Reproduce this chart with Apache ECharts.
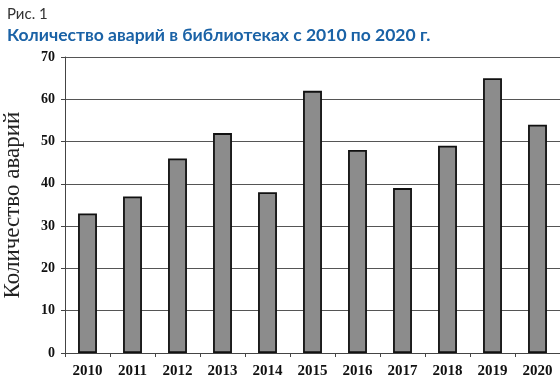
<!DOCTYPE html>
<html><head><meta charset="utf-8">
<script src="https://cdn.jsdelivr.net/npm/echarts@6/dist/echarts.min.js"></script>
<style>html,body{margin:0;padding:0;background:#fff}#c{width:560px;height:385px}</style>
</head><body><div id="c"></div>
<script>
const categories = ['2010','2011','2012','2013','2014','2015','2016','2017','2018','2019','2020'];
const values = [33, 37, 46, 52, 38, 62, 48, 39, 49, 65, 54];
const yTicks = [0, 10, 20, 30, 40, 50, 60, 70];
const figLabel = 'Рис. 1';
const titleText = 'Количество аварий в библиотеках с 2010 по 2020 г.';
const yName = 'Количество аварий';

const chart = echarts.init(document.getElementById('c'));
chart.setOption({
  animation: false,
  title: [
    {text: figLabel, left: 2, top: 2, textStyle: {fontFamily: 'Lato', fontSize: 15, fontWeight: 'normal', color: '#333'}},
    {text: titleText, left: 2, top: 21, textStyle: {fontFamily: 'Lato', fontSize: 17.5, fontWeight: 'bold', color: '#1a62a6'}}
  ],
  grid: {left: 65, right: 0, top: 57, bottom: 32, outerBoundsMode: 'none', containLabel: false},
  xAxis: {
    type: 'category', data: categories,
    axisLine: {lineStyle: {color: '#444', width: 1}},
    axisTick: {show: true, lineStyle: {color: '#444'}, length: 4},
    axisLabel: {fontFamily: 'Liberation Serif', fontWeight: 'bold', fontSize: 15, color: '#111', margin: 11}
  },
  yAxis: {
    type: 'value', min: yTicks[0], max: yTicks[yTicks.length-1], interval: 10,
    name: yName, nameLocation: 'middle', nameGap: 41, nameMoveOverlap: false,
    nameTextStyle: {fontFamily: 'Liberation Serif', fontSize: 23, color: '#222'},
    axisLine: {show: true, lineStyle: {color: '#444'}},
    axisTick: {show: true, length: 4, lineStyle: {color: '#444'}},
    splitLine: {lineStyle: {color: '#555', width: 1}},
    axisLabel: {fontFamily: 'Liberation Serif', fontWeight: 'bold', fontSize: 14, color: '#111', margin: 10}
  },
  series: [{
    type: 'bar', data: values, barWidth: '42%',
    itemStyle: {color: '#8c8c8c', borderColor: '#111', borderWidth: 1.8}
  }]
});
</script></body></html>
